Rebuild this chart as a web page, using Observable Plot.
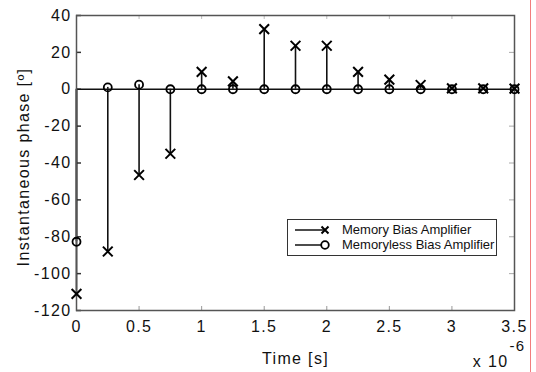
<!DOCTYPE html>
<html><head><meta charset="utf-8">
<script src="https://cdn.jsdelivr.net/npm/d3@7"></script>
<script src="https://cdn.jsdelivr.net/npm/@observablehq/plot@0.6"></script>
<style>
body{margin:0;background:#fff;font-family:"Liberation Sans",Arial,sans-serif;}
#wrap{position:relative;width:536px;height:372px;overflow:hidden;background:#fff;}
#wrap svg text{letter-spacing:1.35px;}
#redline{position:absolute;left:530px;top:0;width:1px;height:372px;background:#f27d7d;}
#legend{position:absolute;left:287px;top:219px;width:210px;height:37px;box-sizing:border-box;border:1px solid #333;background:#fff;}
#legend svg{position:absolute;left:0;top:0;}
#legend .lab{position:absolute;left:54px;font-size:13px;line-height:13px;color:#111;white-space:nowrap;}
</style></head>
<body><div id="wrap"></div>
<script>
const times = [0, 0.25, 0.5, 0.75, 1, 1.25, 1.5, 1.75, 2, 2.25, 2.5, 2.75, 3, 3.25, 3.5];
const memoryBias = [-111, -88, -46.5, -35, 9.4, 4.3, 32.6, 23.6, 23.6, 9.4, 5.2, 2.3, 0.5, 0.5, 0.3];
const memorylessBias = [-82.7, 1, 2.5, 0, 0, 0, 0, 0, 0, 0, 0, 0, 0, 0, 0];
const xTicks = [0, 0.5, 1, 1.5, 2, 2.5, 3, 3.5];
const yTicks = [40, 20, 0, -20, -40, -60, -80, -100, -120];
const seriesNames = ["Memory Bias Amplifier", "Memoryless Bias Amplifier"];
const xLabel = ["Time [s]"];
const yLabel = ["Instantaneous phase [º]"];
const xMultiplier = ["x 10"];
const xExponent = ["-6"];

const memRows = times.map((t, i) => ({t, v: memoryBias[i]}));
const lessRows = times.map((t, i) => ({t, v: memorylessBias[i]}));

const W = 536, H = 372, mL = 76, mR = 22, mT = 15, mB = 62;
const fw = W - mL - mR, fh = H - mT - mB;
const font = '"Liberation Sans", Arial, sans-serif';

const chart = Plot.plot({
  width: W, height: H,
  marginLeft: mL, marginRight: mR, marginTop: mT, marginBottom: mB,
  style: {fontFamily: font, fontSize: "16px", color: "#111", background: "#fff"},
  x: {domain: [0, 3.5], label: null},
  y: {domain: [-120, 40], label: null},
  marks: [
    Plot.axisX(xTicks, {anchor: "bottom", label: null, tickSize: 0, tickPadding: 10, tickFormat: d => String(d), fontSize: 16}),
    Plot.axisY(yTicks, {anchor: "left", label: null, tickSize: 0, tickPadding: 5, tickFormat: d => String(d), fontSize: 16}),
    Plot.tickX(xTicks, {x: d => d, insetTop: fh - 4, stroke: "#999"}),
    Plot.tickX(xTicks, {x: d => d, insetBottom: fh - 4, stroke: "#bbb"}),
    Plot.tickY(yTicks, {y: d => d, insetRight: fw - 5, stroke: "#333", strokeWidth: 1.5}),
    Plot.tickY(yTicks, {y: d => d, insetLeft: fw - 5, stroke: "#aaa"}),
    Plot.ruleY([0], {stroke: "#111", strokeWidth: 1.5}),
    Plot.ruleX(lessRows, {x: "t", y1: 0, y2: "v", stroke: "#111", strokeWidth: 1.6}),
    Plot.ruleX(memRows, {x: "t", y1: 0, y2: "v", stroke: "#111", strokeWidth: 1.6}),
    Plot.frame({stroke: "#555", strokeWidth: 1.5}),
    Plot.dot(lessRows, {x: "t", y: "v", symbol: "circle", r: 4, stroke: "#000", strokeWidth: 1.8, fill: "none"}),
    Plot.dot(memRows, {x: "t", y: "v", symbol: "times", r: 4.5, stroke: "#000", strokeWidth: 2}),
    Plot.text(yLabel, {frameAnchor: "left", textAnchor: "middle", lineAnchor: "middle", dx: -53, dy: 4, rotate: -90, fontSize: 16, fill: "#111"}),
    Plot.text(xLabel, {frameAnchor: "bottom", textAnchor: "middle", lineAnchor: "middle", dy: 48, fontSize: 16, fill: "#111"}),
    Plot.text(xMultiplier, {frameAnchor: "bottom-right", textAnchor: "end", lineAnchor: "middle", dx: -6, dy: 51, fontSize: 16, fill: "#111"}),
    Plot.text(xExponent, {frameAnchor: "bottom-right", textAnchor: "middle", lineAnchor: "middle", dx: 3, dy: 36, fontSize: 15, fill: "#111"})
  ]
});

const wrap = document.getElementById("wrap");
wrap.appendChild(chart);

const legend = document.createElement("div");
legend.id = "legend";
const rowsY = [10, 25];
legend.innerHTML =
  `<svg width="60" height="35">
     <line x1="7" x2="37" y1="${rowsY[0]}" y2="${rowsY[0]}" stroke="#111" stroke-width="1.5"/>
     <path d="M33.5,${rowsY[0]-3.5}L40.5,${rowsY[0]+3.5}M33.5,${rowsY[0]+3.5}L40.5,${rowsY[0]-3.5}" stroke="#000" stroke-width="2"/>
     <line x1="7" x2="33" y1="${rowsY[1]}" y2="${rowsY[1]}" stroke="#111" stroke-width="1.5"/>
     <circle cx="37" cy="${rowsY[1]}" r="3.8" fill="none" stroke="#000" stroke-width="1.8"/>
   </svg>` +
  seriesNames.map((n, i) => `<div class="lab" style="top:${rowsY[i] - 7}px">${n}</div>`).join("");
wrap.appendChild(legend);

const red = document.createElement("div");
red.id = "redline";
wrap.appendChild(red);
</script>
</body></html>
